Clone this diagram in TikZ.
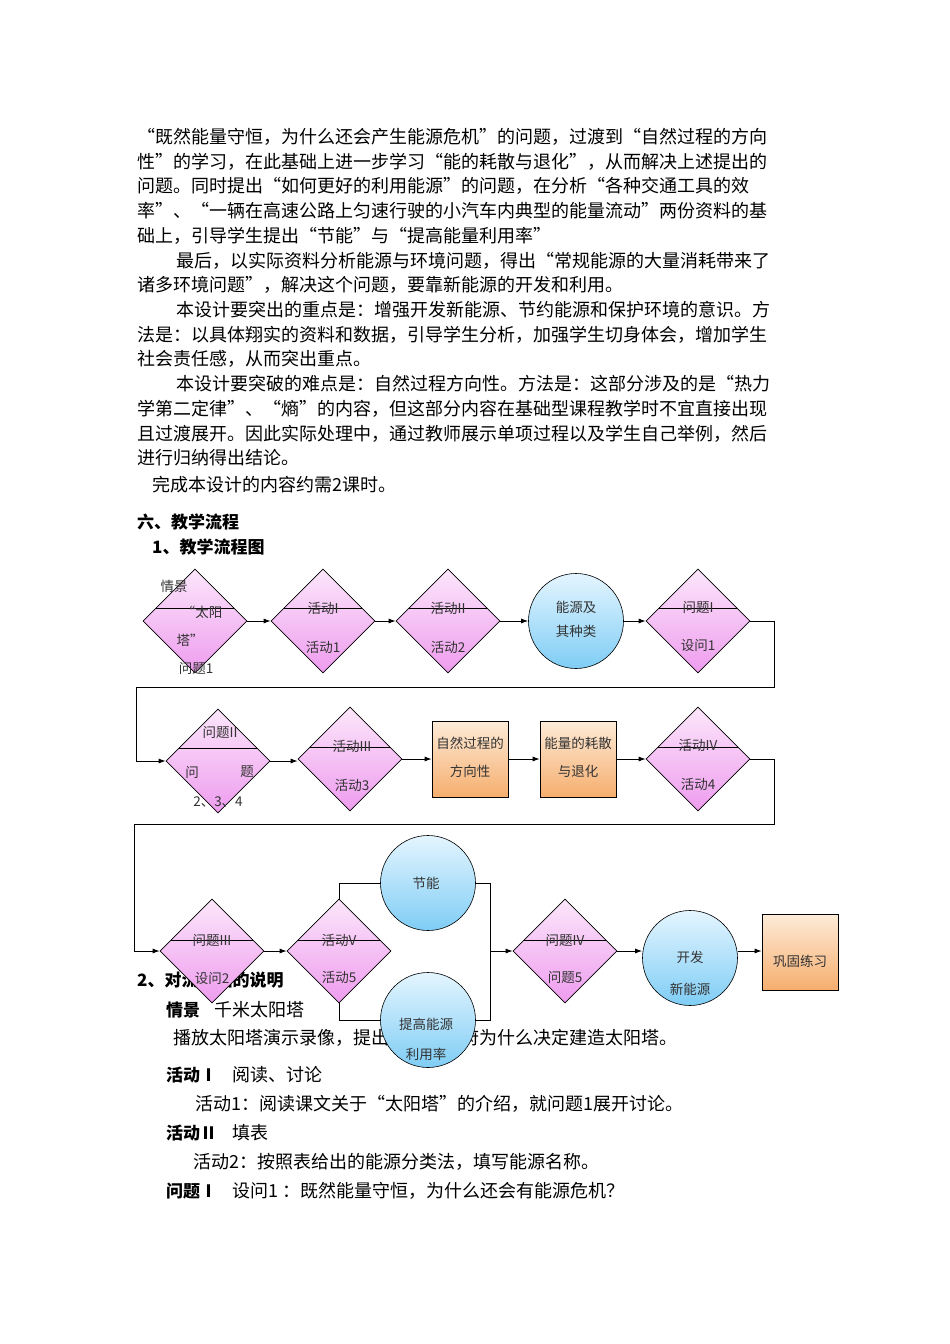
\documentclass[tikz,border=0pt]{standalone}
\usepackage{fontspec}
\setmainfont{Noto Sans CJK SC}
\usetikzlibrary{shapes.geometric,arrows.meta}
\definecolor{ctop}{HTML}{E4F5FF}
\definecolor{cbot}{HTML}{7FCDF5}
\definecolor{dtop}{HTML}{FCE6FB}
\definecolor{dbot}{HTML}{EE9CEE}
\definecolor{otop}{HTML}{FDEBD8}
\definecolor{obot}{HTML}{F6AE6E}
\tikzset{
 body/.style={anchor=west,inner sep=0pt,font=\fontsize{18}{20}\selectfont},
 bodyb/.style={body,font=\fontsize{17}{20}\selectfont\bfseries},
 dia/.style={diamond,draw=black,line width=0.6pt,minimum width=104pt,minimum height=104pt,inner sep=0pt,aspect=1,top color=dtop,bottom color=dbot},
 circ/.style={ellipse,draw=black,line width=0.6pt,minimum width=95pt,minimum height=95pt,inner sep=0pt,top color=ctop,bottom color=cbot},
 rbox/.style={rectangle,draw=black,line width=0.6pt,minimum width=76pt,minimum height=76pt,inner sep=0pt,top color=otop,bottom color=obot},
 lab/.style={inner sep=0pt,font=\fontsize{13.5}{15}\selectfont,text=black!80},
 conn/.style={line width=0.9pt,-{Latex[length=7pt,width=5pt]}},
 wire/.style={line width=0.9pt},
}
\begin{document}
\begin{tikzpicture}[x=1pt,y=-1pt]
\useasboundingbox[fill=white] (0,0) rectangle (950,1344);
% body text
\node[body] (t1) at (137,137) {“既然能量守恒，为什么还会产生能源危机”的问题，过渡到“自然过程的方向};
\node[body] (t2) at (137,162) {性”的学习，在此基础上进一步学习“能的耗散与退化”，从而解决上述提出的};
\node[body] (t3) at (137,186) {问题。同时提出“如何更好的利用能源”的问题，在分析“各种交通工具的效};
\node[body] (t4) at (137,211) {率”、“一辆在高速公路上匀速行驶的小汽车内典型的能量流动”两份资料的基};
\node[body] (t5) at (137,236) {础上，引导学生提出“节能”与“提高能量利用率”};
\node[body] (t6) at (176,261) {最后，以实际资料分析能源与环境问题，得出“常规能源的大量消耗带来了};
\node[body] (t7) at (137,285) {诸多环境问题”，解决这个问题，要靠新能源的开发和利用。};
\node[body] (t8) at (176,310) {本设计要突出的重点是：增强开发新能源、节约能源和保护环境的意识。方};
\node[body] (t9) at (137,335) {法是：以具体翔实的资料和数据，引导学生分析，加强学生切身体会，增加学生};
\node[body] (t10) at (137,359) {社会责任感，从而突出重点。};
\node[body] (t11) at (176,384) {本设计要突破的难点是：自然过程方向性。方法是：这部分涉及的是“热力};
\node[body] (t12) at (137,409) {学第二定律”、“熵”的内容，但这部分内容在基础型课程教学时不宜直接出现};
\node[body] (t13) at (137,434) {且过渡展开。因此实际处理中，通过教师展示单项过程以及学生自己举例，然后};
\node[body] (t14) at (137,458) {进行归纳得出结论。};
\node[body] (t15) at (152,485) {完成本设计的内容约需2课时。};
\node[bodyb] (h1) at (137,522) {六、教学流程};
\node[bodyb] (h2) at (152,547) {1、教学流程图};
\node[bodyb] (h3) at (137,980) {2、对流程图的说明};
\node[bodyb] (s1) at (166,1010) {情景};
\node[body] (s1b) at (214,1010) {千米太阳塔};
\node[body] (s2) at (173,1038) {播放太阳塔演示录像，提出问题：政府为什么决定建造太阳塔。};
\node[bodyb] (s3) at (166,1075) {活动Ⅰ};
\node[body] (s3b) at (232,1075) {阅读、讨论};
\node[body] (s4) at (195,1104) {活动1：阅读课文关于“太阳塔”的介绍，就问题1展开讨论。};
\node[bodyb] (s5) at (166,1133) {活动Ⅱ};
\node[body] (s5b) at (232,1133) {填表};
\node[body] (s6) at (193,1162) {活动2：按照表给出的能源分类法，填写能源名称。};
\node[bodyb] (s7) at (166,1191) {问题Ⅰ};
\node[body] (s7b) at (232,1191) {设问1 ：既然能量守恒，为什么还会有能源危机？};
% row 1
\node[dia] (d1) at (195,621) {};
\node[dia] (d2) at (323,621) {};
\node[dia] (d3) at (448,621) {};
\node[circ] (c1) at (576,621) {};
\node[dia] (d4) at (698,621) {};
% row 2
\node[dia] (d5) at (218,761) {};
\node[dia] (d6) at (350,759) {};
\node[rbox] (r1) at (470,759) {};
\node[rbox] (r2) at (578,759) {};
\node[dia] (d7) at (698,759) {};
% row 3
\node[dia] (d8) at (212,951) {};
\node[dia] (d9) at (339,951) {};
\node[circ] (c2) at (428,883) {};
\node[circ] (c3) at (428,1020) {};
\node[dia] (d10) at (565,951) {};
\node[circ] (c4) at (690,958) {};
\node[rbox] (r3) at (800,952) {};
% inner lines
\foreach \n/\dy in {d1/-13,d2/-13,d3/-13,d4/-13,d5/-13,d6/-12,d7/-12,d8/-11,d9/-11,d10/-11}{
  \pgfmathsetmacro{\w}{52-abs(\dy)}
  \draw[line width=0.7pt] ([shift={(-\w,\dy)}]\n.center) -- ([shift={(\w,\dy)}]\n.center);
}
% labels
\node[lab] at (174,586) {情景};
\node[lab] at (202,612) {“太阳};
\node[lab] at (190,640) {塔”};
\node[lab] at (196,668) {问题1};
\node[lab] at (323,608) {活动I};
\node[lab] at (323,647) {活动1};
\node[lab] at (448,608) {活动II};
\node[lab] at (448,647) {活动2};
\node[lab] at (576,621) {\begin{tabular}{c}能源及\\[9pt]其种类\end{tabular}};
\node[lab] at (698,607) {问题I};
\node[lab] at (698,645) {设问1};
\node[lab] at (220,732) {问题II};
\node[lab] at (192,772) {问};
\node[lab] at (247,772) {题};
\node[lab] at (218,802) {2、3、4};
\node[lab] at (352,746) {活动III};
\node[lab] at (352,785) {活动3};
\node[lab] at (470,759) {\begin{tabular}{c}自然过程的\\[12pt]方向性\end{tabular}};
\node[lab] at (578,759) {\begin{tabular}{c}能量的耗散\\[12pt]与退化\end{tabular}};
\node[lab] at (698,745) {活动IV};
\node[lab] at (698,784) {活动4};
\node[lab] at (212,940) {问题III};
\node[lab] at (212,978) {设问2};
\node[lab] at (339,940) {活动V};
\node[lab] at (339,977) {活动5};
\node[lab] at (426,883) {节能};
\node[lab] at (426,1024) {提高能源};
\node[lab] at (426,1054) {利用率};
\node[lab] at (565,940) {问题IV};
\node[lab] at (565,977) {问题5};
\node[lab] at (690,957) {开发};
\node[lab] at (690,989) {新能源};
\node[lab] at (800,961) {巩固练习};
% connectors
\draw[conn] (d1.east) -- (d2.west);
\draw[conn] (d2.east) -- (d3.west);
\draw[conn] (d3.east) -- (c1.west);
\draw[conn] (c1.east) -- (d4.west);
\draw[conn] (d4.east) -- ++(24,0) |- (136,687) |- (d5.west);
\draw[conn] (d5.east) -- (d6.west |- d5.east);
\draw[conn] (d6.east) -- (r1.west);
\draw[conn] (r1.east) -- (r2.west);
\draw[conn] (r2.east) -- (d7.west);
\draw[conn] (d7.east) -- ++(24,0) |- (134,824) |- (d8.west);
\draw[conn] (d8.east) -- (d9.west);
\draw[wire] (d9.north) |- (c2.west);
\draw[wire] (d9.south) |- (c3.west);
\coordinate (j) at (490,951);
\draw[wire] (c2.east) -| (j);
\draw[wire] (c3.east) -| (j);
\draw[conn] (j) -- (d10.west);
\draw[conn] (d10.east) -- (c4.west |- d10.east);
\draw[conn] (c4.east |- d10.east) -- (r3.west |- d10.east);
\end{tikzpicture}
\end{document}
